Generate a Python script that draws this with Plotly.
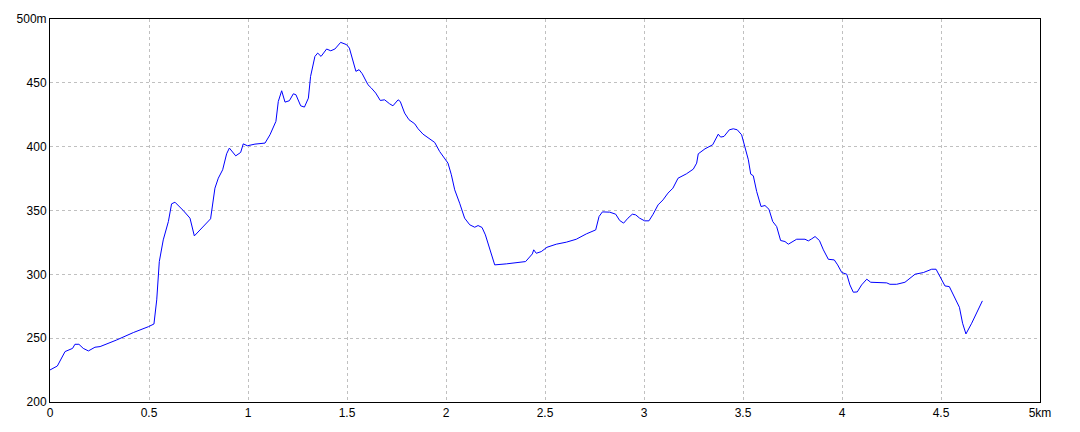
import plotly.graph_objects as go

distance_km = [
    0.000, 0.037, 0.076, 0.114, 0.126, 0.146, 0.168, 0.194, 0.227, 0.253,
    0.337, 0.421, 0.497, 0.525, 0.539, 0.552, 0.572, 0.598, 0.614, 0.631,
    0.673, 0.707, 0.729, 0.749, 0.811, 0.833, 0.850, 0.872, 0.892, 0.906,
    0.938, 0.963, 0.976, 0.997, 1.035, 1.086, 1.111, 1.141, 1.153, 1.170,
    1.187, 1.209, 1.229, 1.242, 1.266, 1.285, 1.305, 1.316, 1.338, 1.352,
    1.369, 1.397, 1.418, 1.439, 1.468, 1.498, 1.512, 1.545, 1.561, 1.577,
    1.606, 1.623, 1.645, 1.668, 1.690, 1.715, 1.732, 1.758, 1.769, 1.791,
    1.813, 1.842, 1.859, 1.884, 1.914, 1.943, 1.968, 1.993, 2.010, 2.027,
    2.044, 2.069, 2.094, 2.120, 2.145, 2.162, 2.182, 2.199, 2.221, 2.246,
    2.305, 2.355, 2.402, 2.436, 2.443, 2.456, 2.481, 2.510, 2.557, 2.608,
    2.658, 2.709, 2.756, 2.773, 2.790, 2.827, 2.857, 2.877, 2.897, 2.919,
    2.941, 2.958, 2.978, 3.003, 3.025, 3.046, 3.071, 3.096, 3.121, 3.146,
    3.172, 3.214, 3.249, 3.266, 3.274, 3.308, 3.347, 3.375, 3.387, 3.404,
    3.431, 3.451, 3.471, 3.493, 3.510, 3.527, 3.539, 3.552, 3.569, 3.591,
    3.611, 3.631, 3.650, 3.670, 3.690, 3.712, 3.729, 3.771, 3.813, 3.830,
    3.847, 3.864, 3.886, 3.906, 3.931, 3.961, 3.978, 3.999, 4.024, 4.040,
    4.057, 4.077, 4.099, 4.125, 4.145, 4.192, 4.217, 4.226, 4.242, 4.276,
    4.318, 4.343, 4.369, 4.411, 4.453, 4.475, 4.498, 4.520, 4.542, 4.571,
    4.593, 4.609, 4.626, 4.655, 4.684, 4.709,
]
elevation_m = [
    225.1, 228.2, 239.5, 242.0, 245.2, 245.2, 242.0, 240.0, 242.9, 243.4,
    248.6, 254.4, 259.0, 261.1, 280.0, 310.0, 327.0, 341.4, 355.2, 356.5,
    350.0, 344.0, 330.1, 333.5, 343.5, 367.5, 375.3, 381.9, 394.4, 398.9,
    392.8, 395.5, 402.2, 400.7, 402.0, 402.8, 409.3, 419.8, 435.4, 443.8,
    434.9, 436.0, 441.4, 440.7, 432.0, 431.0, 438.0, 455.0, 470.7, 473.3,
    470.7, 476.5, 475.1, 476.5, 481.7, 479.9, 477.2, 459.0, 460.3, 457.1,
    448.5, 445.9, 442.0, 436.2, 436.7, 433.6, 432.0, 436.7, 435.4, 426.3,
    421.1, 417.9, 414.0, 409.8, 406.7, 403.3, 396.2, 391.0, 387.1, 378.0,
    366.2, 355.7, 344.0, 338.8, 336.9, 338.2, 336.7, 330.9, 319.2, 307.4,
    308.2, 309.2, 310.0, 316.0, 319.2, 316.5, 317.8, 321.2, 323.6, 325.2,
    327.5, 331.7, 334.8, 345.3, 348.9, 348.7, 347.1, 342.2, 340.1, 344.0,
    347.1, 346.6, 344.0, 341.9, 341.9, 347.1, 354.4, 358.3, 363.6, 367.5,
    375.3, 378.7, 382.4, 387.1, 394.4, 398.3, 401.5, 409.8, 407.5, 408.0,
    413.2, 414.0, 413.2, 409.3, 400.2, 389.7, 378.5, 377.2, 364.9, 353.1,
    353.9, 351.0, 341.4, 337.4, 326.5, 325.7, 323.6, 327.5, 327.5, 326.2,
    327.8, 329.6, 326.5, 319.2, 311.8, 311.3, 307.4, 301.4, 300.1, 291.7,
    286.0, 286.2, 291.7, 296.2, 293.8, 293.8, 293.8, 293.3, 292.2, 292.2,
    293.8, 296.9, 300.1, 301.4, 304.0, 304.0, 296.9, 290.9, 290.4, 281.3,
    274.2, 261.7, 253.3, 261.7, 270.8, 279.2,
]

x_tick_vals = [0, 0.5, 1, 1.5, 2, 2.5, 3, 3.5, 4, 4.5, 5]
x_tick_text = ["0", "0.5", "1", "1.5", "2", "2.5", "3", "3.5", "4", "4.5", "5km"]
y_tick_vals = [200, 250, 300, 350, 400, 450, 500]
y_tick_text = ["200", "250", "300", "350", "400", "450", "500m"]

font_family = "Liberation Sans, Arial, sans-serif"

fig = go.Figure(
    go.Scatter(
        x=distance_km,
        y=elevation_m,
        mode="lines",
        line=dict(color="#0000ff", width=1),
        hoverinfo="skip",
    )
)

axis_common = dict(
    showline=True,
    linecolor="#000000",
    linewidth=1,
    mirror=True,
    showgrid=True,
    gridcolor="#c0c0c0",
    griddash="3px,3px",
    gridwidth=1,
    zeroline=False,
    ticks="",
    automargin=False,
    tickfont=dict(family=font_family, size=12, color="#000000"),
)

fig.update_xaxes(
    range=[0, 5],
    tickmode="array",
    tickvals=x_tick_vals,
    ticktext=x_tick_text,
    **axis_common,
)
fig.update_yaxes(
    range=[200, 500],
    tickmode="array",
    tickvals=y_tick_vals,
    ticktext=y_tick_text,
    **axis_common,
)

# page body has an 8px default margin, so the figure is offset by 8px
fig.update_layout(
    width=1072,
    height=424,
    margin=dict(l=42, r=40, t=11, b=30),
    paper_bgcolor="#ffffff",
    plot_bgcolor="#ffffff",
    showlegend=False,
)

fig.write_html("out.html")
